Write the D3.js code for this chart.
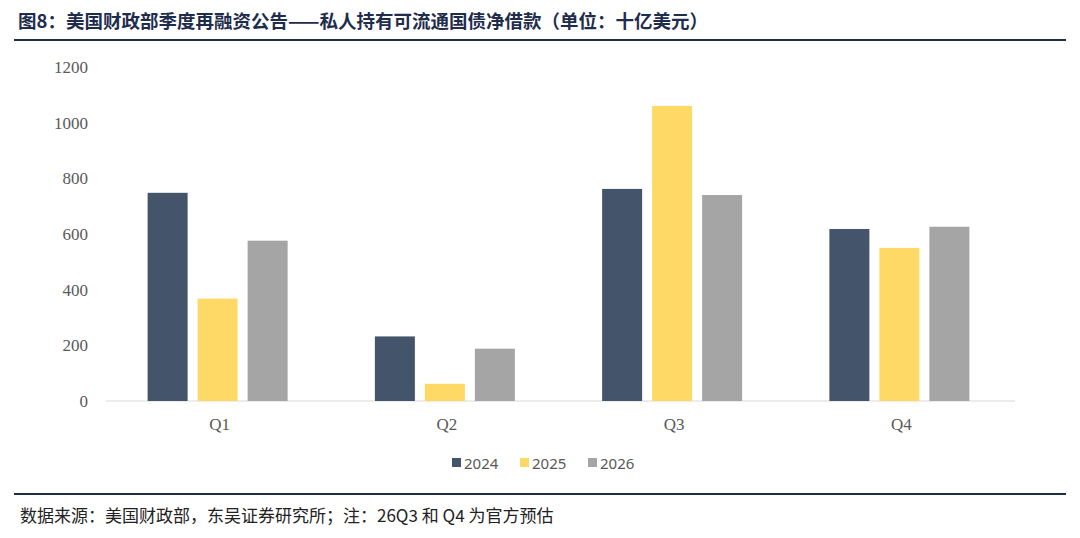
<!DOCTYPE html>
<html><head><meta charset="utf-8">
<script src="https://cdn.jsdelivr.net/npm/d3@7/dist/d3.min.js"></script>
<style>body{margin:0;background:#fff;}</style>
</head><body><div id="chart"></div>
<script>
const categories = ['Q1', 'Q2', 'Q3', 'Q4'];
const seriesNames = ['2024', '2025', '2026'];
const values2024 = [748, 232, 762, 618];
const values2025 = [368, 62, 1060, 550];
const values2026 = [576, 188, 740, 626];
const yTicks = [0, 200, 400, 600, 800, 1000, 1200];
const colors = ['#44546a', '#ffd966', '#a5a5a5'];
const series = [values2024, values2025, values2026];

const W = 1080, H = 538;
const svg = d3.select('#chart').append('svg').attr('width', W).attr('height', H);
const cjk = '"Noto Sans CJK SC", sans-serif';
const serif = '"Liberation Serif", "Times New Roman", serif';

svg.append('text').attr('x', 18).attr('y', 28)
  .attr('font-family', cjk).attr('font-weight', 'bold').attr('font-size', 18.5).attr('fill', '#1f2d4d')
  .text('图8：美国财政部季度再融资公告——私人持有可流通国债净借款（单位：十亿美元）');
svg.append('line').attr('x1', 14).attr('x2', 1066).attr('y1', 40).attr('y2', 40)
  .attr('stroke', '#1f2d4d').attr('stroke-width', 2);

const x = d3.scaleBand().domain(categories).range([106, 1015]);
const y = d3.scaleLinear().domain([0, 1200]).range([401, 67]);
const inner = d3.scaleBand().domain(seriesNames).range([0, 140]).paddingInner(0.25);

svg.append('g').selectAll('text').data(yTicks).join('text')
  .attr('x', 88).attr('y', d => y(d) + 6).attr('text-anchor', 'end')
  .attr('font-family', serif).attr('font-size', 17).attr('fill', '#595959').text(d => d);

svg.append('line').attr('x1', 106).attr('x2', 1015).attr('y1', y(0)).attr('y2', y(0))
  .attr('stroke', '#d9d9d9');

series.forEach((vals, si) => {
  svg.append('g').selectAll('rect').data(vals).join('rect')
    .attr('x', (d, i) => x(categories[i]) + x.bandwidth() / 2 - 72 + si * 50)
    .attr('width', 40)
    .attr('y', d => y(d)).attr('height', d => y(0) - y(d))
    .attr('fill', colors[si]);
});

svg.append('g').selectAll('text').data(categories).join('text')
  .attr('x', d => x(d) + x.bandwidth() / 2).attr('y', 430).attr('text-anchor', 'middle')
  .attr('font-family', serif).attr('font-size', 17).attr('fill', '#595959').text(d => d);

const lg = svg.append('g');
seriesNames.forEach((s, i) => {
  const lx = 452 + i * 68;
  lg.append('rect').attr('x', lx).attr('y', 458).attr('width', 9).attr('height', 9).attr('fill', colors[i]);
  lg.append('text').attr('x', lx + 12).attr('y', 469).attr('font-family', '"Noto Sans", sans-serif')
    .attr('font-size', 15).attr('fill', '#595959').text(s);
});

svg.append('line').attr('x1', 14).attr('x2', 1066).attr('y1', 494).attr('y2', 494)
  .attr('stroke', '#1f2d4d').attr('stroke-width', 2);
svg.append('text').attr('x', 20).attr('y', 522)
  .attr('font-family', cjk).attr('font-size', 17).attr('fill', '#222')
  .text('数据来源：美国财政部，东吴证券研究所；注：26Q3 和 Q4 为官方预估');
</script></body></html>
